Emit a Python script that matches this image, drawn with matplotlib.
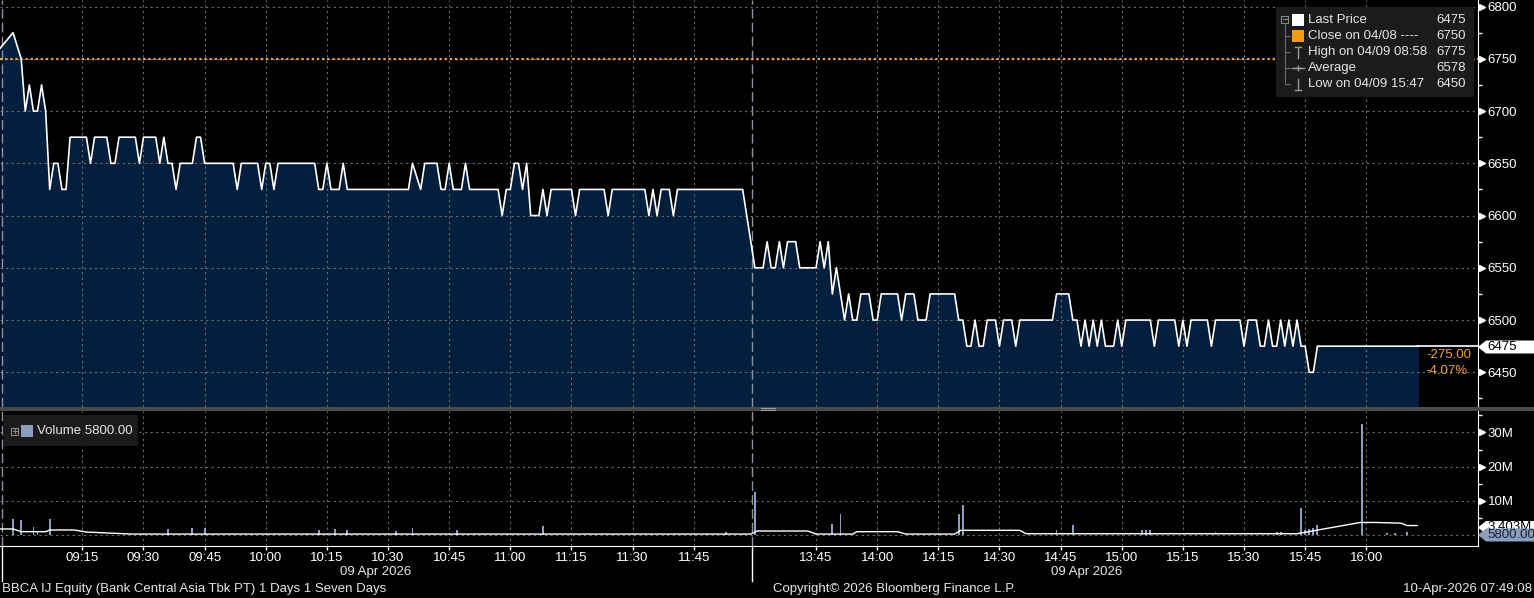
import matplotlib
matplotlib.use('Agg')
import matplotlib.pyplot as plt
from matplotlib.patches import Polygon, Rectangle
from matplotlib.lines import Line2D
from matplotlib.ticker import MultipleLocator
from matplotlib.transforms import blended_transform_factory, ScaledTranslation

plt.rcParams['font.family'] = ['Liberation Sans', 'DejaVu Sans']

W, H = 1534, 598

# trading minutes from 09:00, lunch break 12:00-13:30 cut out (13:30 -> 180)
price_min = [-5.2, -2, 0, 1, 2, 3, 4, 5, 6, 7, 8, 9, 10, 11, 12, 16, 17, 18, 21, 22,
             23, 24, 28, 29, 30, 33, 34, 35, 36, 37, 38, 39, 42, 43, 44, 45, 52, 53, 54, 58,
             59, 60, 61, 62, 63, 72, 73, 74, 75, 76, 78, 79, 80, 95, 96, 98, 99, 102, 103, 104,
             105, 106, 108, 109, 110, 117, 118, 119, 120, 121, 122, 123, 124, 125, 127, 128, 129, 130, 135, 136,
             137, 143, 144, 145, 153, 154, 155, 156, 157, 159, 160, 161, 177,
             180, 182, 183, 184, 185, 186, 187, 188, 190, 191, 195, 196, 197, 198, 199, 200, 202, 203, 204,
             205, 206, 208, 209, 210, 211, 215, 216, 217, 219, 220, 222, 223, 229, 230, 231, 232, 233, 234, 235,
             236, 237, 239, 240, 241, 243, 244, 245, 253, 254, 257, 258, 259, 260, 261, 262, 263, 264, 265, 266,
             268, 269, 270, 271, 277, 278, 279, 283, 284, 285, 286, 287, 291, 292, 293, 299, 300, 301, 303, 304,
             305, 306, 307, 308, 309, 310, 311, 312, 313, 314, 315, 316, 317, 318, 342.8]
price_idr = [6760, 6775, 6750, 6700, 6725, 6700, 6700, 6725, 6700, 6625, 6650, 6650, 6625, 6625, 6675, 6675, 6650, 6675, 6675, 6650,
             6650, 6675, 6675, 6650, 6675, 6675, 6650, 6675, 6650, 6650, 6625, 6650, 6650, 6675, 6675, 6650, 6650, 6625, 6650, 6650,
             6625, 6650, 6650, 6625, 6650, 6650, 6625, 6625, 6650, 6625, 6625, 6650, 6625, 6625, 6650, 6625, 6650, 6650, 6625, 6625,
             6650, 6625, 6625, 6650, 6625, 6625, 6600, 6625, 6625, 6650, 6650, 6625, 6650, 6600, 6600, 6625, 6600, 6625, 6625, 6600,
             6625, 6625, 6600, 6625, 6625, 6600, 6625, 6600, 6625, 6625, 6600, 6625, 6625,
             6550, 6550, 6575, 6550, 6550, 6575, 6550, 6575, 6575, 6550, 6550, 6575, 6550, 6575, 6525, 6550, 6500, 6525, 6500,
             6500, 6525, 6525, 6500, 6500, 6525, 6525, 6500, 6525, 6525, 6500, 6500, 6525, 6525, 6500, 6500, 6475, 6475, 6500, 6475,
             6475, 6500, 6500, 6475, 6500, 6500, 6475, 6500, 6500, 6525, 6525, 6500, 6500, 6475, 6500, 6475, 6500, 6475, 6500, 6475,
             6475, 6500, 6475, 6500, 6500, 6475, 6500, 6500, 6475, 6500, 6475, 6500, 6500, 6475, 6500, 6500, 6475, 6500, 6500, 6475,
             6475, 6500, 6475, 6475, 6500, 6475, 6500, 6475, 6500, 6475, 6475, 6450, 6450, 6475, 6475]

# volume bars (millions of shares)
vol_min = [-2, 0, 3, 4, 7, 36, 42, 45, 73, 77, 80, 92, 96, 107, 128, 173, 180, 199, 201, 230,
           231, 254, 258, 275, 276, 277, 293, 308, 309, 314, 315, 316, 317, 318, 329, 335, 337, 340]
vol_m = [4.5, 4.2, 2.3, 0.9, 4.5, 1.6, 2.0, 2.0, 1.35, 1.7, 1.35, 1.1, 2.0, 1.35, 2.5, 0.7, 12.4, 3.1, 6.0, 6.0,
         8.8, 1.35, 2.8, 1.35, 1.35, 1.35, 0.8, 0.8, 0.8, 7.8, 1.35, 1.6, 2.0, 2.8, 32.6, 0.5, 0.6, 0.8]

# volume average line
ma_min = [-5.2, -2, 0, 6, 7, 13, 16, 27, 179, 180.5, 193, 195, 204, 205, 215, 217, 229, 230.5,
          245, 246.5, 313, 328.5, 332.5, 338.5, 340, 342.5]
ma_m = [1.7, 1.7, 0.9, 0.9, 1.4, 1.4, 0.8, 0.2, 0.2, 1.1, 1.1, 0.2, 0.2, 0.9, 0.9, 0.2, 0.2, 1.3,
        1.3, 0.3, 0.3, 3.6, 3.6, 3.4, 2.7, 2.7]

tick_min = [15, 30, 45, 60, 75, 90, 105, 120, 135, 150, 165,
            195, 210, 225, 240, 255, 270, 285, 300, 315, 330]
tick_lbl = ['09:15', '09:30', '09:45', '10:00', '10:15', '10:30', '10:45', '11:00', '11:15', '11:30', '11:45',
            '13:45', '14:00', '14:15', '14:30', '14:45', '15:00', '15:15', '15:30', '15:45', '16:00']

prev_close = 6750
last_price = 6475
session_break = 179.3

legend_rows = [('Last Price', '6475'), ('Close on 04/08 ----', '6750'), ('High on 04/09 08:58', '6775'),
               ('Average', '6578'), ('Low on 04/09 15:47', '6450')]

NAVY = '#041f3d'
GRID = '#6c6c6c'
ORANGE = '#f2a23a'
VOLC = '#8c9dbd'
TXT = '#e6e6e6'
FS = 9.5


def fx(x):
    return x / W


def fy(y):
    return 1 - y / H


def fig_line(xs, ys, **kw):
    fig.add_artist(Line2D([fx(x) for x in xs], [fy(y) for y in ys], transform=fig.transFigure, **kw))


def fig_rect(x0, y0, x1, y1, **kw):
    fig.add_artist(Rectangle((fx(x0), fy(y1)), fx(x1) - fx(x0), fy(y0) - fy(y1),
                             transform=fig.transFigure, **kw))


def tag(py, label, fc, tc, z):
    pts = [(1478, py), (1486, py - 6.5), (1534, py - 6.5), (1534, py + 6.5), (1486, py + 6.5)]
    fig.add_artist(Polygon([(fx(x), fy(y)) for x, y in pts], closed=True, transform=fig.transFigure,
                           fc=fc, ec='none', zorder=z))
    fig.text(fx(1487), fy(py), label, color=tc, ha='left', va='center', fontsize=FS, zorder=z + 0.5)


fig = plt.figure(figsize=(W / 100, H / 100), dpi=100, facecolor='black')
ax1 = fig.add_axes([0, fy(407), fx(1478), 407 / H])
ax2 = fig.add_axes([0, fy(546), fx(1478), (546 - 411) / H])

for ax in (ax1, ax2):
    ax.set_facecolor('black')
    ax.set_xlim(-5.2, 357.4)
    for s in ('top', 'left'):
        ax.spines[s].set_visible(False)
    ax.spines['right'].set_color('white')
    ax.yaxis.tick_right()
    ax.set_xticks(tick_min)
    ax.grid(True, which='major', color=GRID, linestyle=(0, (2, 3)), linewidth=0.8)
    ax.axvline(session_break, color='#8a93a3', linestyle=(0, (7, 3)), linewidth=1)
    ax.axvline(-4.8, color='#8a93a3', linestyle=(0, (7, 3)), linewidth=1)
    ax.tick_params(axis='y', which='major', length=0, pad=7, labelcolor='white', labelsize=FS)
    ax.tick_params(axis='y', which='minor', length=3, width=1, color='white')

# price panel
ax1.spines['bottom'].set_visible(False)
ax1.set_ylim(6416.8, 6806.3)
ax1.set_yticks(range(6450, 6801, 50))
ax1.yaxis.set_minor_locator(MultipleLocator(25))
ax1.tick_params(axis='x', length=0, labelbottom=False)
ax1.fill_between(price_min, price_idr, 6416.8, color=NAVY, linewidth=0, zorder=1)
ax1.plot(price_min, price_idr, color='white', linewidth=1.2, zorder=3)
ax1.plot([price_min[-1], 357.4], [last_price, last_price], color='white', linewidth=1.2, zorder=3)
ax1.axhline(prev_close, color=ORANGE, linestyle=(0, (1, 1.3)), linewidth=1.6, zorder=2)

# volume panel
ax2.spines['bottom'].set_color('white')
ax2.set_ylim(-3.3, 36.3)
ax2.set_yticks([10, 20, 30])
ax2.set_yticklabels(['10M', '20M', '30M'])
ax2.yaxis.set_minor_locator(MultipleLocator(5))
ax2.axhline(0, color=GRID, linestyle=(0, (2, 3)), linewidth=0.8)
ax2.set_xticklabels(tick_lbl)
ax2.tick_params(axis='x', length=3, width=1, color='white', pad=1, labelcolor='white', labelsize=FS)
ax2.bar(vol_min, vol_m, width=0.45, color=VOLC, linewidth=0, zorder=2)
ax2.plot(ma_min, ma_m, color='white', linewidth=1, zorder=3)

# triangle markers on the major y ticks
for ax, vals in ((ax1, range(6450, 6801, 50)), (ax2, [10, 20, 30])):
    tr = blended_transform_factory(ax.transAxes, ax.transData) + ScaledTranslation(4 / 100, 0, fig.dpi_scale_trans)
    ax.plot([1] * len(vals), list(vals), transform=tr, linestyle='none', marker='>', markersize=5,
            color='white', clip_on=False)

# panel separator
fig_rect(0, 407, W, 411, fc='#4a4a4a', ec='none', zorder=4)
fig_line([761, 775], [408.3, 408.3], color='#9a9a9a', linewidth=0.8, zorder=5)
fig_line([761, 775], [410, 410], color='#9a9a9a', linewidth=0.8, zorder=5)

# price legend box
fig_rect(1276, 7, 1474, 97, fc='#1b1b1b', ec='none', zorder=4)
row_y = [20, 36, 52, 68, 84]
fig_rect(1281, 15.5, 1288, 22.5, fc='none', ec='#8a8a8a', linewidth=0.8, zorder=5)
fig_line([1282.5, 1286.5], [19, 19], color='#8a8a8a', linewidth=0.8, zorder=5)
fig_line([1284.5, 1284.5], [23, 84], color='#6a6a6a', linewidth=0.8, zorder=5)
for ry in row_y[1:]:
    fig_line([1284.5, 1290], [ry, ry], color='#6a6a6a', linewidth=0.8, zorder=5)
fig_rect(1292, 14, 1304, 26, fc='white', ec='none', zorder=5)
fig_rect(1292, 30, 1304, 42, fc='#f39c12', ec='none', zorder=5)
fig_line([1298, 1298], [47, 58], color='#9a9a9a', linewidth=1, zorder=5)
fig_line([1295, 1301], [47, 47], color='#9a9a9a', linewidth=1, zorder=5)
fig_line([1292, 1304], [68, 68], color='#9a9a9a', linewidth=1, zorder=5)
fig_line([1298], [68], color='#9a9a9a', marker='+', markersize=5, zorder=5)
fig_line([1298, 1298], [79, 90], color='#9a9a9a', linewidth=1, zorder=5)
fig_line([1295, 1301], [90, 90], color='#9a9a9a', linewidth=1, zorder=5)
for ry, (name, val) in zip(row_y, legend_rows):
    fig.text(fx(1308), fy(ry), name, color=TXT, ha='left', va='center', fontsize=FS, zorder=6)
    fig.text(fx(1466), fy(ry), val, color=TXT, ha='right', va='center', fontsize=FS, zorder=6)

# volume legend box
fig_rect(4, 415, 138, 446, fc='#1b1b1b', ec='none', zorder=4)
fig_rect(11, 427.5, 18, 434.5, fc='none', ec='#8a8a8a', linewidth=0.8, zorder=5)
fig_line([12.5, 16.5], [431, 431], color='#8a8a8a', linewidth=0.8, zorder=5)
fig_line([14.5, 14.5], [429, 433], color='#8a8a8a', linewidth=0.8, zorder=5)
fig_rect(21, 425, 33, 437, fc=VOLC, ec='none', zorder=5)
fig.text(fx(37), fy(431), 'Volume 5800.00', color=TXT, ha='left', va='center', fontsize=FS, zorder=6)

# last value tags
tag(347, '6475', 'white', 'black', 6)
fig.text(fx(1471), fy(355), '-275.00', color=ORANGE, ha='right', va='center', fontsize=FS, zorder=6)
fig.text(fx(1468), fy(371), '-4.07%', color=ORANGE, ha='right', va='center', fontsize=FS, zorder=6)
tag(527.5, '3.403M', 'white', 'black', 6)
tag(535, '5800.00', VOLC, '#1a2236', 8)

# day boundary ticks and date labels
fig_line([2, 2], [546, 581], color='white', linewidth=1, zorder=5)
fig_line([752, 752], [546, 581], color='white', linewidth=1, zorder=5)
fig.text(fx(376), fy(572), '09 Apr 2026', color=TXT, ha='center', va='center', fontsize=FS)
fig.text(fx(1087), fy(572), '09 Apr 2026', color=TXT, ha='center', va='center', fontsize=FS)

# footer
fig.text(fx(2), fy(589), 'BBCA IJ Equity (Bank Central Asia Tbk PT) 1 Days 1 Seven Days',
         color=TXT, ha='left', va='center', fontsize=FS)
fig.text(fx(773), fy(589), 'Copyright\u00a9 2026 Bloomberg Finance L.P.', color=TXT, ha='left', va='center', fontsize=FS)
fig.text(fx(1532), fy(589), '10-Apr-2026 07:49:08', color=TXT, ha='right', va='center', fontsize=FS)

fig.savefig('out.png', dpi=100, facecolor='black')
